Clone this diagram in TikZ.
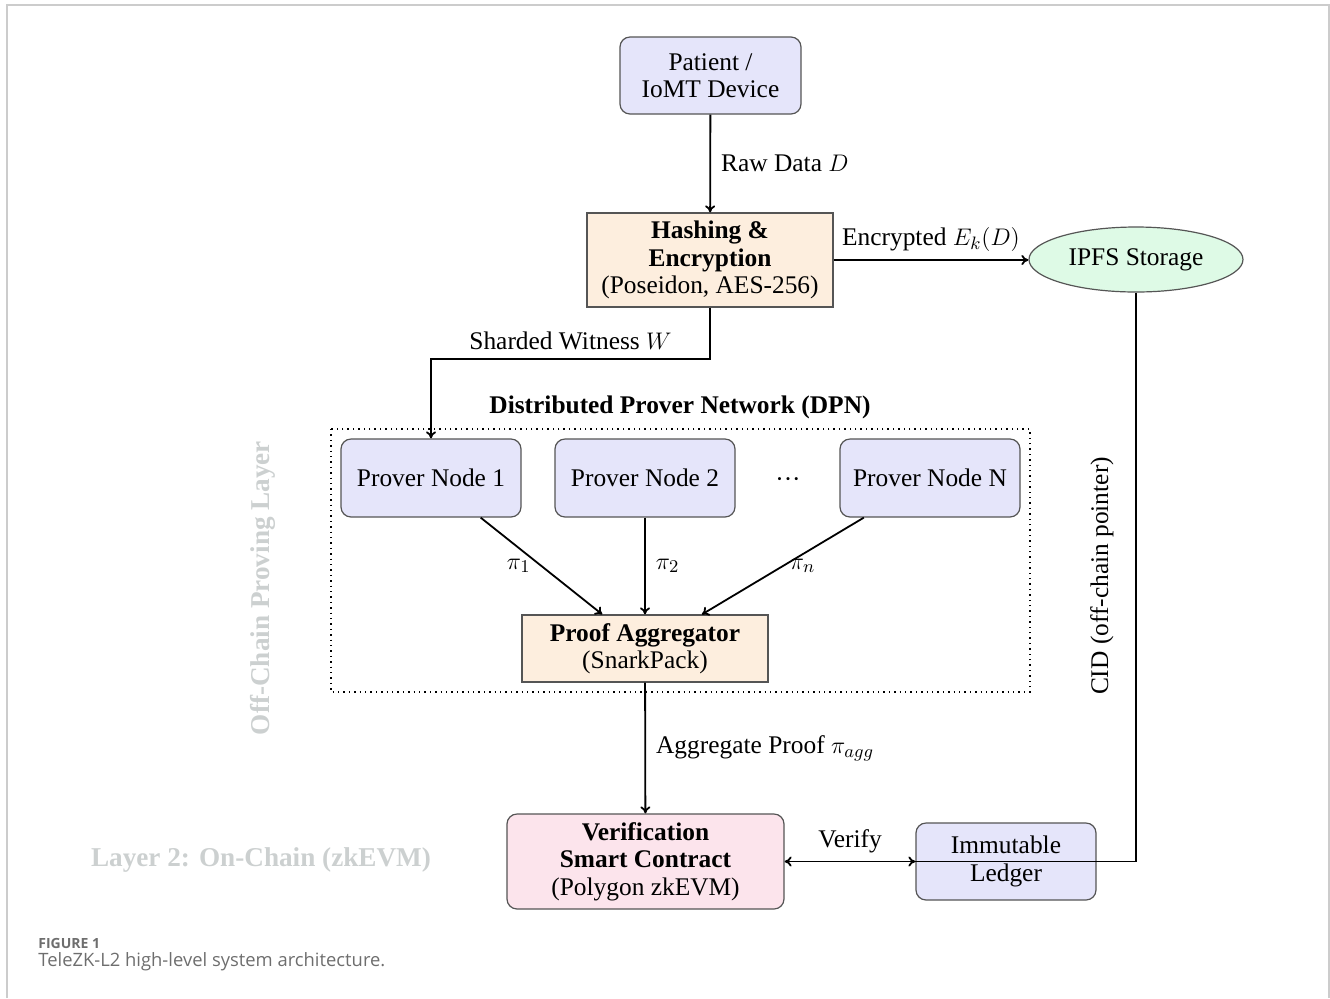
\documentclass[tikz,border=0pt]{standalone}
\usepackage{fontspec}
\setmainfont{Liberation Serif}
\newfontfamily\capfont{Open Sans}
\usetikzlibrary{shapes.geometric,arrows.meta}
\definecolor{lav}{RGB}{229,229,250}
\definecolor{peach}{RGB}{253,238,222}
\definecolor{mint}{RGB}{222,250,230}
\definecolor{pinkc}{RGB}{252,228,236}
\definecolor{lblgray}{RGB}{204,208,208}
\definecolor{bordc}{RGB}{85,85,85}
\definecolor{capgray}{RGB}{110,110,110}
\begin{document}
\begin{tikzpicture}[x=0.5pt,y=-0.5pt,
  font=\fontsize{12.7}{13.7}\selectfont,
  rbox/.style={draw=bordc, line width=0.6pt, rounded corners=5pt, fill=lav, align=center, inner sep=2pt, minimum width=90pt, minimum height=39pt},
  sbox/.style={draw=bordc, line width=0.6pt, fill=peach, align=center, inner sep=2pt},
  ellbox/.style={draw=bordc, line width=0.6pt, ellipse, fill=mint, inner sep=1pt, minimum width=107pt, minimum height=32.5pt},
  conn/.style={-{To[length=3.5pt,width=5pt]}, line width=0.9pt},
  plain/.style={line width=0.9pt},
  graylbl/.style={text=lblgray, font=\fontsize{13.6}{15}\selectfont\bfseries},
]
\useasboundingbox (0,0) rectangle (1330,998);
\draw[gray!40, line width=1pt] (7,998) -- (7,4.5) -- (1329,4.5) -- (1329,998);

% nodes
\node[rbox, minimum width=90.5pt, minimum height=38.5pt] (patient) at (710.5,75.5) {Patient /\\IoMT Device};
\node[sbox, minimum width=123pt, minimum height=47pt] (hash) at (710,260) {\textbf{Hashing \&}\\\textbf{Encryption}\\(Poseidon, AES-256)};
\node[ellbox] (ipfs) at (1136,259.5) {IPFS Storage};

\draw[dotted, line width=0.7pt] (331,429) rectangle (1030,692);
\node[font=\fontsize{12.7}{13.7}\selectfont\bfseries] (dpnlbl) at (680,407) {Distributed Prover Network (DPN)};

\node[rbox] (p1) at (431,478) {Prover Node 1};
\node[rbox] (p2) at (645,478) {Prover Node 2};
\node (dots) at (788,483) {···};
\node[rbox] (pN) at (930,478) {Prover Node N};
\node[sbox, minimum width=123pt, minimum height=33.5pt] (agg) at (645,648.5) {\textbf{Proof Aggregator}\\(SnarkPack)};

\node[rbox, fill=pinkc, minimum width=138.5pt, minimum height=47.5pt] (ver) at (645.5,861.5) {\textbf{Verification}\\\textbf{Smart Contract}\\(Polygon zkEVM)};
\node[rbox, minimum width=90pt, minimum height=38.5pt] (ledger) at (1006,861.5) {Immutable\\Ledger};

\node[graylbl] (l2lbl) at (261,860) {Layer 2: On-Chain (zkEVM)};
\node[graylbl, rotate=90] (offlbl) at (263,588) {Off-Chain Proving Layer};

% connectors
\draw[conn] (patient) -- node[right, inner sep=5pt]{Raw Data $D$} (hash);
\draw[conn] (hash.east) -- node[above, inner sep=4pt]{Encrypted $E_k(D)$} (hash.east -| ipfs.west);
\draw[conn] (hash.south) -- ++(0,51) -| node[pos=0.25, above, inner sep=4pt]{Sharded Witness $W$} (p1.north);
\draw[conn] (p1) -- node[left, inner sep=5pt]{$\pi_1$} (agg);
\draw[conn] (p2) -- node[right, inner sep=5pt]{$\pi_2$} (agg);
\draw[conn] (pN) -- node[right, inner sep=3pt]{$\pi_n$} (agg);
\draw[conn] (agg) -- node[right, inner sep=5pt]{Aggregate Proof $\pi_{agg}$} (ver);
\draw[plain] (ipfs.south) |- (ledger.west);
\draw[{To[length=3.5pt,width=5pt]}-{To[length=3.5pt,width=5pt]}, line width=0.9pt] (ver) -- node[above, inner sep=4pt]{Verify} (ledger);
\node[rotate=90] (cidlbl) at (1102,576) {CID (off-chain pointer)};

% caption
\node[anchor=west, inner sep=0pt, text=capgray, font=\capfont\fontsize{7}{8}\selectfont\bfseries] (cap1) at (38,943) {FIGURE 1};
\node[anchor=west, inner sep=0pt, text=capgray, font=\capfont\fontsize{9.2}{11}\selectfont] (cap2) at (38,962) {TeleZK-L2 high-level system architecture.};
\end{tikzpicture}
\end{document}
